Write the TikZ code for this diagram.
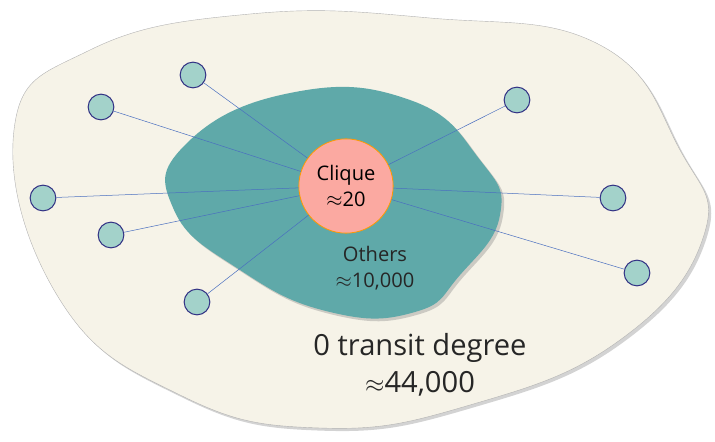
\documentclass[tikz,border=0pt]{standalone}
\usepackage{fontspec}
\setmainfont{Open Sans}
\usetikzlibrary{shadows,calc}
\begin{document}
\begin{tikzpicture}[x=0.035cm,y=-0.035cm,
  leaf/.style={circle,draw=blue!40!black!80,line width=1pt,fill=leafc,minimum size=0.9cm,inner sep=0pt},
  link/.style={draw=linkc,line width=0.5pt}]
\definecolor{cream}{HTML}{F6F3E8}
\definecolor{teal}{HTML}{5FA9A9}
\definecolor{leafc}{HTML}{A3D2CA}
\definecolor{linkc}{HTML}{4A6FC0}
\definecolor{pinkc}{HTML}{FBA9A1}
\useasboundingbox (0,0) rectangle (715,442);
\fill[cream,draw=gray!60,drop shadow={opacity=0.35}] plot[smooth cycle,tension=0.75] coordinates
 {(14,130) (90,50) (250,14) (430,18) (600,45) (680,150) (704,235) (620,340) (470,405) (320,428) (180,395) (60,300)};
\fill[teal,drop shadow={opacity=0.35}] plot[smooth cycle,tension=0.8] coordinates
 {(185,145) (290,93) (410,100) (480,160) (500,215) (460,275) (415,312) (330,312) (240,270) (174,210)};
\node[circle,draw=orange!80!yellow,line width=0.8pt,fill=pinkc,minimum size=3.3cm,inner sep=0pt,align=center,font=\fontsize{20}{25}\selectfont] (c) at (346,186) {Clique\\$\approx$20};
\foreach \n/\x/\y in {a/193/75,b/101/107,d/43/198,e/111/235,f/197/302,g/517/100,h/613/198,i/637/273}{
  \node[leaf] (\n) at (\x,\y) {};
  \draw[link] (c) -- (\n);
}
\node[font=\fontsize{20}{26}\selectfont,text=black!85,align=center] (o) at (375,268) {Others\\$\approx$10,000};
\node[font=\fontsize{29}{37}\selectfont,text=black!85,align=center] (t) at (420,365) {0 transit degree\\$\approx$44,000};
\end{tikzpicture}
\end{document}
